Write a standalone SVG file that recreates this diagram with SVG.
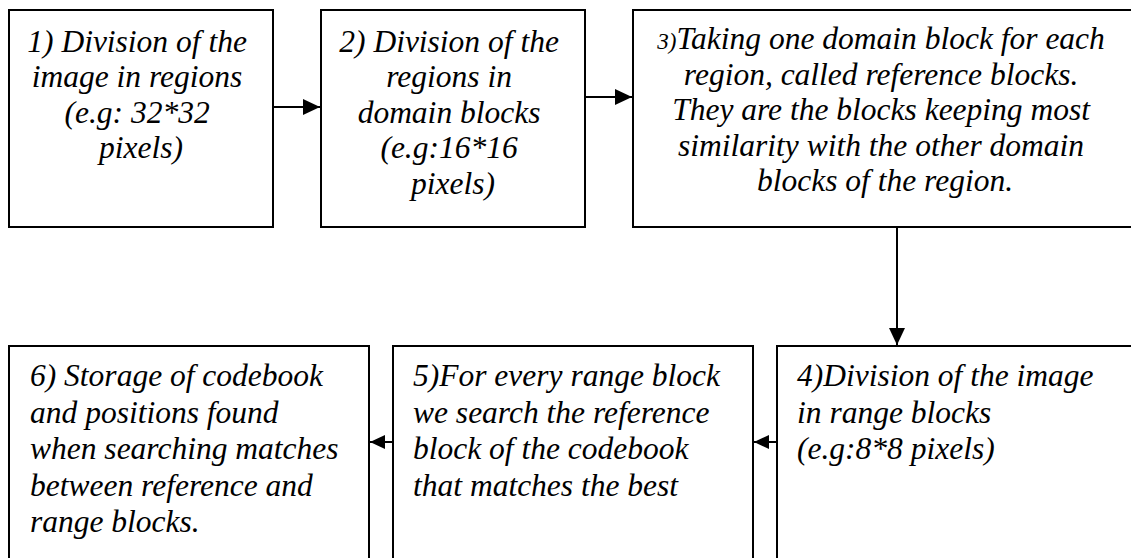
<svg xmlns="http://www.w3.org/2000/svg" width="1131" height="558" viewBox="0 0 1131 558">
  <style>
    .box { fill: #ffffff; stroke: #000000; stroke-width: 2; }
    .edge { fill: none; stroke: #000000; stroke-width: 2; }
    .lbl { font-family: 'Liberation Serif', 'Times New Roman', serif; font-style: italic; font-size: 31.5px; fill: #000000; }
    .mid { text-anchor: middle; }
    .num { font-size: 23px; }
  </style>
  <defs>
    <marker id="arrow" viewBox="0 0 17 16" refX="17" refY="8" markerWidth="17" markerHeight="16" markerUnits="userSpaceOnUse" orient="auto">
      <path d="M0,0 L17,8 L0,16 Z" fill="#000000"/>
    </marker>
    <marker id="arrowSmall" viewBox="0 0 15 14" refX="15" refY="7" markerWidth="15" markerHeight="14" markerUnits="userSpaceOnUse" orient="auto">
      <path d="M0,0 L15,7 L0,14 Z" fill="#000000"/>
    </marker>
  </defs>

  <!-- Step 1 -->
  <g id="step1">
    <rect class="box" x="9" y="10" width="264" height="217"/>
    <text class="lbl mid">
      <tspan x="141" y="52">1) Division of the</tspan>
      <tspan x="141" y="87">image in regions</tspan>
      <tspan x="141" y="122.5">(e.g: 32*32</tspan>
      <tspan x="141" y="158">pixels)</tspan>
    </text>
  </g>

  <!-- Step 2 -->
  <g id="step2">
    <rect class="box" x="321" y="10" width="264" height="217"/>
    <text class="lbl mid">
      <tspan x="453" y="52">2) Division of the</tspan>
      <tspan x="453" y="87">regions in</tspan>
      <tspan x="453" y="122.5">domain blocks</tspan>
      <tspan x="453" y="158">(e.g:16*16</tspan>
      <tspan x="453" y="193.5">pixels)</tspan>
    </text>
  </g>

  <!-- Step 3 -->
  <g id="step3">
    <rect class="box" x="633" y="10" width="506" height="217"/>
    <text class="lbl mid">
      <tspan x="885" y="49"><tspan class="num">3)</tspan>Taking one domain block for each</tspan>
      <tspan x="885" y="84.5">region, called reference blocks.</tspan>
      <tspan x="885" y="120">They are the blocks keeping most</tspan>
      <tspan x="885" y="155.5">similarity with the other domain</tspan>
      <tspan x="885" y="191">blocks of the region.</tspan>
    </text>
  </g>

  <!-- Step 4 -->
  <g id="step4">
    <rect class="box" x="777" y="346" width="364" height="230"/>
    <text class="lbl">
      <tspan x="797" y="386">4)Division of the image</tspan>
      <tspan x="797" y="422.5">in range blocks</tspan>
      <tspan x="797" y="459">(e.g:8*8 pixels)</tspan>
    </text>
  </g>

  <!-- Step 5 -->
  <g id="step5">
    <rect class="box" x="393" y="346" width="360" height="230"/>
    <text class="lbl">
      <tspan x="413" y="386">5)For every range block</tspan>
      <tspan x="413" y="422.5">we search the reference</tspan>
      <tspan x="413" y="459">block of the codebook</tspan>
      <tspan x="413" y="495.5">that matches the best</tspan>
    </text>
  </g>

  <!-- Step 6 -->
  <g id="step6">
    <rect class="box" x="9" y="346" width="360" height="230"/>
    <text class="lbl">
      <tspan x="30" y="386">6) Storage of codebook</tspan>
      <tspan x="30" y="422.5">and positions found</tspan>
      <tspan x="30" y="459">when searching matches</tspan>
      <tspan x="30" y="495.5">between reference and</tspan>
      <tspan x="30" y="532">range blocks.</tspan>
    </text>
  </g>

  <!-- Connectors -->
  <g id="connectors">
    <line class="edge" x1="273" y1="107" x2="320" y2="107" marker-end="url(#arrow)"/>
    <line class="edge" x1="585" y1="97" x2="632" y2="97" marker-end="url(#arrow)"/>
    <line class="edge" x1="897" y1="227" x2="897" y2="345" marker-end="url(#arrow)"/>
    <line class="edge" x1="777" y1="442" x2="754" y2="442" marker-end="url(#arrowSmall)"/>
    <line class="edge" x1="393" y1="442" x2="370" y2="442" marker-end="url(#arrowSmall)"/>
  </g>
</svg>
